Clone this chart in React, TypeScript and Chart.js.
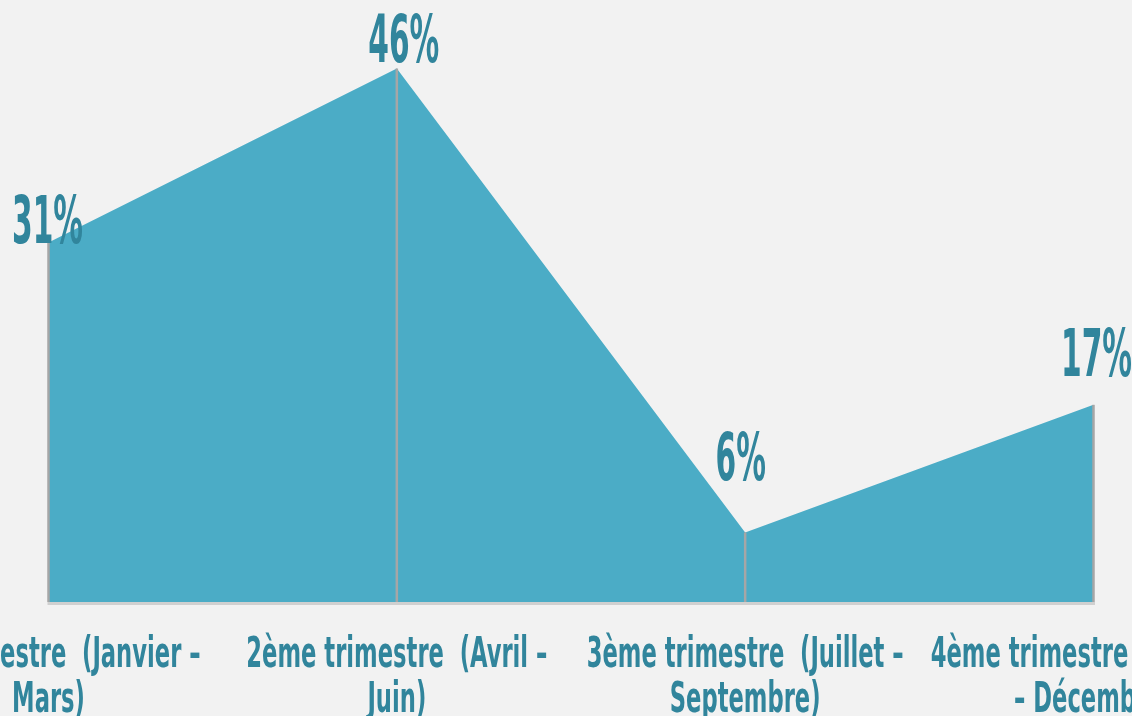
import { useEffect, useRef } from 'react';
import { Chart, registerables } from 'chart.js';

Chart.register(...registerables);

// ---- data ----
const categories: string[][] = [
  ['1er trimestre  (Janvier –', 'Mars)'],
  ['2ème trimestre  (Avril –', 'Juin)'],
  ['3ème trimestre  (Juillet –', 'Septembre)'],
  ['4ème trimestre  (Octobre', '– Décembre)'],
];
const values: number[] = [31, 46, 6, 17];
const valueLabels: string[] = ['31%', '46%', '6%', '17%'];

// ---- style ----
const FONT = "'Liberation Sans Narrow', 'DejaVu Sans Condensed', 'Roboto', sans-serif";
const TEXT_COLOR = '#31859C';
const FILL_COLOR = '#4BACC6';
const BG = '#F2F2F2';
const labelOffsets: number[][] = [[-1, 1], [7, -6], [-4.5, -52], [3, -29]];

function drawCondensed(ctx: CanvasRenderingContext2D, text: string, x: number, y: number, sx: number) {
  ctx.save();
  ctx.translate(x, y);
  ctx.scale(sx, 1);
  ctx.fillText(text, 0, 0);
  ctx.restore();
}

const overlay = {
  id: 'overlay',
  afterDatasetsDraw(chart: any) {
    const ctx: CanvasRenderingContext2D = chart.ctx;
    const xs = chart.scales.x;
    const ys = chart.scales.y;
    const area = chart.chartArea;
    const base = ys.getPixelForValue(0);
    ctx.save();
    // axis line
    ctx.strokeStyle = '#D0D0D0';
    ctx.lineWidth = 3;
    ctx.beginPath();
    ctx.moveTo(area.left - 1, base + 1.5);
    ctx.lineTo(area.right + 1.5, base + 1.5);
    ctx.stroke();
    // drop lines
    ctx.strokeStyle = '#A6A6A6';
    ctx.lineWidth = 2.5;
    values.forEach((v, i) => {
      const x = xs.getPixelForValue(i);
      ctx.beginPath();
      ctx.moveTo(x, ys.getPixelForValue(v));
      ctx.lineTo(x, base);
      ctx.stroke();
    });
    ctx.fillStyle = TEXT_COLOR;
    ctx.textAlign = 'center';
    ctx.textBaseline = 'alphabetic';
    // value labels
    ctx.font = `bold 66px ${FONT}`;
    const sxV = 71 / ctx.measureText('46%').width;
    values.forEach((v, i) => {
      const x = xs.getPixelForValue(i) + labelOffsets[i][0];
      const y = ys.getPixelForValue(v) + labelOffsets[i][1];
      drawCondensed(ctx, valueLabels[i], x, y, sxV);
    });
    // category labels
    ctx.font = `bold 42px ${FONT}`;
    const sxL = 301 / ctx.measureText('2ème trimestre  (Avril –').width;
    categories.forEach((lines, i) => {
      const x = xs.getPixelForValue(i);
      lines.forEach((line, j) => {
        drawCondensed(ctx, line, x, base + 65 + j * 45, sxL);
      });
    });
    ctx.restore();
  },
};

export default function App() {
  const ref = useRef<HTMLCanvasElement | null>(null);
  useEffect(() => {
    if (!ref.current) return;
    const chart = new Chart(ref.current, {
      type: 'line',
      data: {
        labels: categories.map((c) => c.join(' ')),
        datasets: [
          {
            data: values,
            fill: 'origin',
            backgroundColor: FILL_COLOR,
            borderWidth: 0,
            borderColor: FILL_COLOR,
            pointRadius: 0,
            pointHoverRadius: 0,
            tension: 0,
          },
        ],
      },
      options: {
        responsive: false,
        animation: false,
        layout: { padding: { left: 48.5, right: 38.5, top: 22, bottom: 0 } },
        plugins: { legend: { display: false }, tooltip: { enabled: false } },
        scales: {
          x: {
            display: true,
            grid: { display: false },
            border: { display: false },
            ticks: { display: false },
            afterFit: (scale: any) => {
              scale.height = 114;
              scale.paddingLeft = 0;
              scale.paddingRight = 0;
            },
          },
          y: { display: false, min: 0, max: 50 },
        },
      },
      plugins: [overlay],
    });
    return () => chart.destroy();
  }, []);
  return (
    <div style={{ position: 'fixed', left: 0, top: 0, width: 1132, height: 716, background: BG, overflow: 'hidden' }}>
      <canvas ref={ref} width={1132} height={716} style={{ display: 'block' }} />
    </div>
  );
}
